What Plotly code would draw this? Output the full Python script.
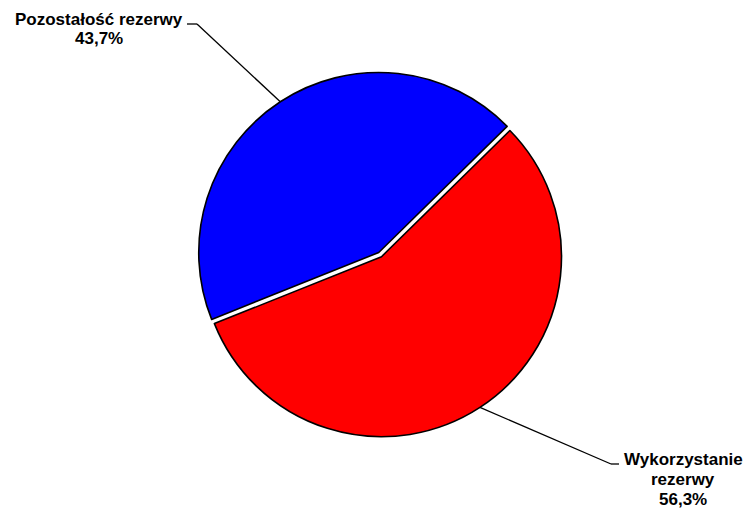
import math
import plotly.graph_objects as go

labels = ["Wykorzystanie rezerwy", "Pozostałość rezerwy"]
values = [56.3, 43.7]
colors = ["#FF0000", "#0000FF"]
pulls = [0, 0.028]
label_lines = [["Wykorzystanie", "rezerwy", "56,3%"], ["Pozostałość rezerwy", "43,7%"]]

W, H = 749, 508
cx, cy, r = 381.5, 256.7, 180.0
rotation = 45.5
maxpull = max(pulls)
half = r * (1 + maxpull)

fig = go.Figure(go.Pie(
    labels=labels, values=values, sort=False, direction="clockwise",
    rotation=rotation, pull=pulls, textinfo="none", hoverinfo="label+percent",
    marker=dict(colors=colors, line=dict(color="#000000", width=1.6)),
    domain=dict(x=[(cx - half) / W, (cx + half) / W], y=[1 - (cy + half) / H, 1 - (cy - half) / H]),
    showlegend=False,
))

def px(x):
    return x / W

def py(y):
    return 1 - y / H

# edge points at slice mid-angles
total = sum(values)
start = rotation
mids = []
for v in values:
    span = v / total * 360
    mids.append(start + span / 2)
    start += span

def edge(i):
    a = math.radians(mids[i])
    off = pulls[i] * r
    return (cx + (r + off) * math.sin(a), cy - (r + off) * math.cos(a))

ann = []
shapes = []
font = dict(family="Liberation Sans, Arial, sans-serif", size=17, color="#000000")
lw = 1.3

# red label (bottom right)
ex, ey = edge(0)
shapes.append(dict(type="line", xref="paper", yref="paper", x0=px(ex), y0=py(ey), x1=px(611), y1=py(464), line=dict(color="black", width=lw)))
shapes.append(dict(type="line", xref="paper", yref="paper", x0=px(611), y0=py(464), x1=px(619), y1=py(464), line=dict(color="black", width=lw)))
for k, t in enumerate(label_lines[0]):
    ann.append(dict(text="<b>%s</b>" % t, x=px(683), y=py(459 + 20 * k), xref="paper", yref="paper",
                    xanchor="center", yanchor="middle", showarrow=False, font=font))

# blue label (top left)
ex, ey = edge(1)
shapes.append(dict(type="line", xref="paper", yref="paper", x0=px(ex), y0=py(ey), x1=px(197), y1=py(24), line=dict(color="black", width=lw)))
shapes.append(dict(type="line", xref="paper", yref="paper", x0=px(197), y0=py(24), x1=px(187), y1=py(24), line=dict(color="black", width=lw)))
for k, t in enumerate(label_lines[1]):
    ann.append(dict(text="<b>%s</b>" % t, x=px(98.5), y=py(19 + 20 * k), xref="paper", yref="paper",
                    xanchor="center", yanchor="middle", showarrow=False, font=font))

fig.update_layout(
    width=W, height=H, margin=dict(l=0, r=0, t=0, b=0),
    paper_bgcolor="white", plot_bgcolor="white",
    annotations=ann, shapes=shapes,
)
fig.write_html("out.html", config={"displayModeBar": False},
               post_script="document.body.style.margin='0';document.body.style.overflow='hidden';")
